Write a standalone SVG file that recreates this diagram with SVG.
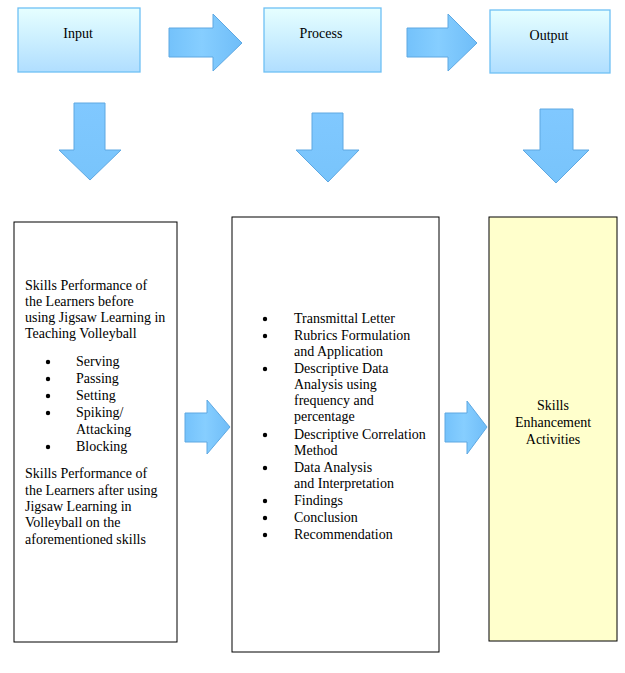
<svg xmlns="http://www.w3.org/2000/svg" width="625" height="673" viewBox="0 0 625 673">
<defs>
<linearGradient id="boxGrad" x1="0" y1="0" x2="0" y2="1">
<stop offset="0" stop-color="#e6ffff"/>
<stop offset="1" stop-color="#b0deff"/>
</linearGradient>
<linearGradient id="arrH" x1="0" y1="0" x2="1" y2="0">
<stop offset="0" stop-color="#74c2fb"/>
<stop offset="0.45" stop-color="#86ceff"/>
<stop offset="1" stop-color="#6fbdf8"/>
</linearGradient>
<linearGradient id="arrV" x1="0" y1="0" x2="0" y2="1">
<stop offset="0" stop-color="#80c8ff"/>
<stop offset="1" stop-color="#78c4fb"/>
</linearGradient>
</defs>
<style>
.top{fill:url(#boxGrad);stroke:#6fc0f4;stroke-width:1.3}
.box{fill:#ffffff;stroke:#000000;stroke-width:1}
.ybox{fill:#ffffcc;stroke:#000000;stroke-width:1}
.ah{fill:url(#arrH);stroke:#5ea8e2;stroke-width:1}
.av{fill:url(#arrV);stroke:#5ea8e2;stroke-width:1}
.b{fill:#000}
text{font-family:"Liberation Serif","Times New Roman",serif;font-size:14px;fill:#000}
.c{text-anchor:middle}
</style>

<g id="input">
<rect class="top" x="18" y="8" width="122" height="64"/>
<text class="c" x="78" y="38">Input</text>
</g>
<g id="process">
<rect class="top" x="264" y="8" width="117" height="64"/>
<text class="c" x="321" y="38">Process</text>
</g>
<g id="output">
<rect class="top" x="490" y="10" width="120" height="63"/>
<text class="c" x="549" y="40">Output</text>
</g>

<g id="connectors">
<path class="ah" d="M169,28 H213 V14 L242,43 L213,71 V57 H169 Z"/>
<path class="ah" d="M407,28 H448 V14 L477,43 L448,71 V57 H407 Z"/>
<path class="av" d="M74,103 H105 V150 H121 L90,180 L59,150 H74 Z"/>
<path class="av" d="M312,113 H343 V150 H359 L328,182 L296,150 H312 Z"/>
<path class="av" d="M540,109 H573 V150 H589 L556,183 L523,150 H540 Z"/>
<path class="ah" d="M185,413 H207 V400 L230,427 L207,454 V442 H185 Z"/>
<path class="ah" d="M445,413 H467 V401 L487,427 L467,454 V442 H445 Z"/>
</g>

<g id="input-details">
<rect class="box" x="14" y="222" width="163" height="420"/>
<text x="25" y="290">Skills Performance of</text>
<text x="25" y="306">the Learners before</text>
<text x="25" y="322">using Jigsaw Learning in</text>
<text x="25" y="338">Teaching Volleyball</text>
<circle class="b" cx="48" cy="362" r="2.2"/><text x="76" y="366">Serving</text>
<circle class="b" cx="48" cy="379" r="2.2"/><text x="76" y="383">Passing</text>
<circle class="b" cx="48" cy="396" r="2.2"/><text x="76" y="400">Setting</text>
<circle class="b" cx="48" cy="413" r="2.2"/><text x="76" y="417">Spiking/</text>
<text x="76" y="434">Attacking</text>
<circle class="b" cx="48" cy="447" r="2.2"/><text x="76" y="451">Blocking</text>
<text x="25" y="478">Skills Performance of</text>
<text x="25" y="495">the Learners after using</text>
<text x="25" y="511">Jigsaw Learning in</text>
<text x="25" y="527">Volleyball on the</text>
<text x="25" y="544">aforementioned skills</text>
</g>

<g id="process-details">
<rect class="box" x="232" y="217" width="207" height="435"/>
<circle class="b" cx="265" cy="319" r="2.2"/><text x="294" y="323">Transmittal Letter</text>
<circle class="b" cx="265" cy="336" r="2.2"/><text x="294" y="340">Rubrics Formulation</text>
<text x="294" y="356">and Application</text>
<circle class="b" cx="265" cy="369" r="2.2"/><text x="294" y="373">Descriptive Data</text>
<text x="294" y="389">Analysis using</text>
<text x="294" y="405">frequency and</text>
<text x="294" y="421">percentage</text>
<circle class="b" cx="265" cy="435" r="2.2"/><text x="294" y="439">Descriptive Correlation</text>
<text x="294" y="455">Method</text>
<circle class="b" cx="265" cy="468" r="2.2"/><text x="294" y="472">Data Analysis</text>
<text x="294" y="488">and Interpretation</text>
<circle class="b" cx="265" cy="501" r="2.2"/><text x="294" y="505">Findings</text>
<circle class="b" cx="265" cy="518" r="2.2"/><text x="294" y="522">Conclusion</text>
<circle class="b" cx="265" cy="535" r="2.2"/><text x="294" y="539">Recommendation</text>
</g>

<g id="output-details">
<rect class="ybox" x="489" y="217" width="128" height="424"/>
<text class="c" x="553" y="410">Skills</text>
<text class="c" x="553" y="427">Enhancement</text>
<text class="c" x="553" y="444">Activities</text>
</g>
</svg>
